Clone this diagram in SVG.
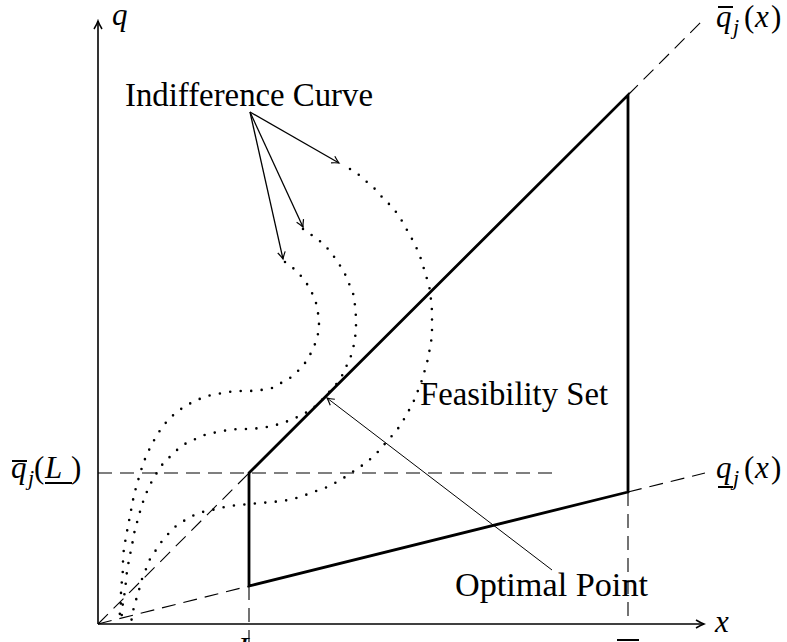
<svg xmlns="http://www.w3.org/2000/svg" width="787" height="642" viewBox="0 0 787 642">
<style>
text{font-family:"Liberation Serif","Times New Roman",serif;fill:#000}
.txt{font-size:33px}
.mi{font-style:italic;font-size:31px}
.mr{font-size:31px}
.sub{font-style:italic;font-size:22px}
.axis{stroke:#000;stroke-width:1.6;fill:none}
.thick{stroke:#000;stroke-width:2.8;fill:none;stroke-linecap:square}
.dash{stroke:#000;stroke-width:1.1;fill:none;stroke-dasharray:14 8}
.dot{stroke:#000;stroke-width:2.6;fill:none;stroke-linecap:round;stroke-linejoin:round;stroke-dasharray:0 10.5}
.arr{stroke:#000;stroke-width:1.3;fill:none}
.arr2{stroke:#000;stroke-width:1;fill:none}
.bar{stroke:#000;stroke-width:2}
</style>
<defs>
<marker id="ah" viewBox="-8 -5 10 10" refX="0" refY="0" markerWidth="10" markerHeight="10" orient="auto" markerUnits="userSpaceOnUse">
<path d="M-7,-3.8 Q-2.5,-1 0,0 Q-2.5,1 -7,3.8" fill="none" stroke="#000" stroke-width="1.2"/>
</marker>
<marker id="axh" viewBox="-9 -5 11 10" refX="0" refY="0" markerWidth="11" markerHeight="10" orient="auto" markerUnits="userSpaceOnUse">
<path d="M-8,-4 Q-3,-1 0,0 Q-3,1 -8,4" fill="none" stroke="#000" stroke-width="1.5"/>
</marker>
</defs>

<g id="axes">
<line class="axis" x1="98" y1="624" x2="98" y2="21" marker-end="url(#axh)"/>
<line class="axis" x1="98" y1="624" x2="704" y2="624" marker-end="url(#axh)"/>
</g>

<g id="guides">
<line class="dash" x1="98" y1="624" x2="249" y2="473"/>
<line class="dash" x1="628" y1="95" x2="705" y2="18"/>
<line class="dash" x1="98" y1="624" x2="249" y2="586"/>
<line class="dash" x1="628" y1="492" x2="705" y2="473"/>
<line class="dash" x1="98" y1="473" x2="553" y2="473"/>
<line class="dash" x1="249" y1="586" x2="249" y2="642"/>
<line class="dash" x1="628" y1="492" x2="628" y2="624"/>
</g>

<g id="feasibility-set">
<path class="thick" d="M249,473 L628,95 L628,492 L249,586 Z"/>
</g>

<g id="indifference-curves">
<path class="dot" d="M285,262 L293,268 L301,276 L307,284 L312,293 L316,303 L318,313 L319,324 L318,334 L315,344 L311,353 L305,363 L298,371 L290,378 L281,383 L272,388 L261,390 L250,391 L239,391 L228,392 L217,394 L207,396 L197,400 L187,405 L178,411 L170,418 L163,426 L157,435 L152,444 L147,454 L143,464 L140,474 L137,484 L134,495 L132,505 L130,516 L128,526 L126,537 L124,548 L123,558 L123,569 L122,580 L121,590 L121,601 L120,612 L119,623"/>
<path class="dot" d="M303,229 L313,236 L321,242 L328,249 L335,258 L341,267 L346,276 L350,286 L354,296 L355,306 L356,317 L356,328 L355,339 L353,349 L350,359 L345,369 L341,378 L334,387 L327,394 L320,402 L312,409 L302,415 L293,419 L283,423 L272,426 L261,428 L250,429 L239,429 L228,430 L218,432 L207,434 L198,438 L188,442 L179,448 L172,455 L164,462 L158,471 L153,479 L148,489 L144,499 L141,508 L138,519 L135,529 L133,540 L131,550 L129,560 L127,571 L126,581 L125,591 L123,602 L122,612 L121,623"/>
<path class="dot" d="M350,169 L359,175 L367,182 L375,189 L382,197 L389,204 L396,212 L402,221 L407,230 L412,239 L417,249 L421,259 L424,269 L427,279 L430,290 L431,300 L432,311 L432,322 L432,332 L431,343 L429,353 L427,363 L424,373 L421,383 L417,393 L413,403 L408,412 L403,421 L397,430 L390,438 L383,446 L376,454 L368,461 L360,467 L351,473 L342,479 L333,484 L323,489 L313,492 L303,496 L293,499 L283,501 L272,502 L261,503 L250,504 L239,505 L228,506 L217,509 L206,511 L196,514 L187,519 L177,525 L169,533 L162,541 L156,550 L150,559 L146,569 L142,579 L139,590 L136,600 L133,611 L131,623"/>
</g>

<g id="connectors">
<line class="arr" x1="250" y1="112" x2="339" y2="163" marker-end="url(#ah)"/>
<line class="arr" x1="250" y1="112" x2="303" y2="227" marker-end="url(#ah)"/>
<line class="arr" x1="250" y1="112" x2="283" y2="259" marker-end="url(#ah)"/>
<line class="arr2" x1="552" y1="570" x2="327" y2="398" marker-end="url(#ah)"/>
</g>

<g id="label-indifference">
<text class="txt" x="125" y="106" textLength="248" lengthAdjust="spacingAndGlyphs">Indifference Curve</text>
</g>
<g id="label-feasibility">
<text class="txt" x="420" y="405" textLength="188" lengthAdjust="spacingAndGlyphs">Feasibility Set</text>
</g>
<g id="label-optimal">
<text class="txt" x="455" y="596" textLength="193" lengthAdjust="spacingAndGlyphs">Optimal Point</text>
</g>

<g id="label-q">
<text class="mi" x="112" y="25">q</text>
</g>
<g id="label-x">
<text class="mi" x="715" y="632">x</text>
</g>

<g id="label-upper-bound">
<line class="bar" x1="718" y1="7" x2="733" y2="7"/>
<text class="mi" x="716" y="27">q</text>
<text class="sub" x="733" y="34">j</text>
<text class="mr" x="744" y="27">(</text>
<text class="mi" x="755" y="27">x</text>
<text class="mr" x="771" y="27">)</text>
</g>

<g id="label-lower-bound">
<line class="bar" x1="718" y1="487" x2="733" y2="487"/>
<text class="mi" x="716" y="478">q</text>
<text class="sub" x="733" y="485">j</text>
<text class="mr" x="744" y="478">(</text>
<text class="mi" x="755" y="478">x</text>
<text class="mr" x="771" y="478">)</text>
</g>

<g id="label-qL">
<line class="bar" x1="12" y1="461" x2="27" y2="461"/>
<text class="mi" x="11" y="478">q</text>
<text class="sub" x="28" y="485">j</text>
<text class="mr" x="34" y="478">(</text>
<text class="mi" x="45" y="478" font-size="33">L</text>
<line class="bar" x1="45" y1="483" x2="72" y2="483"/>
<text class="mr" x="71" y="478">)</text>
</g>

<g id="label-L-low">
<text class="mi" x="238" y="659">L</text>
</g>
<g id="label-L-high">
<line class="bar" x1="617" y1="640" x2="639" y2="640"/>
<text class="mi" x="617" y="666">L</text>
</g>
</svg>
